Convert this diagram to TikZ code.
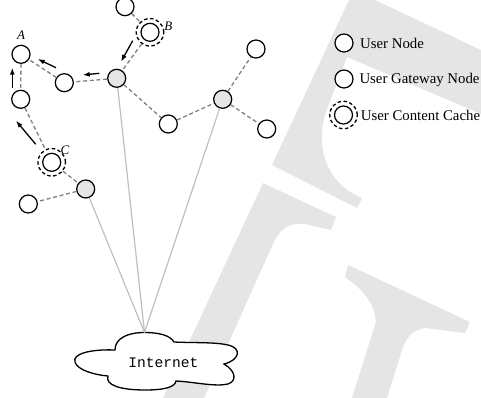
\documentclass[tikz,border=0pt]{standalone}
\usepackage{fontspec}
\setmainfont{Liberation Serif}
\setmonofont{Liberation Mono}
\usetikzlibrary{arrows.meta}
\definecolor{wm}{gray}{0.9}
\definecolor{gwfill}{gray}{0.9}
\definecolor{edgegray}{gray}{0.5}
\definecolor{linkgray}{gray}{0.75}
\begin{document}
\begin{tikzpicture}[x=1pt, y=-1pt,
  unode/.style={circle, draw, line width=1.25pt, fill=white, minimum size=18pt, inner sep=0pt},
  gwnode/.style={unode, fill=gwfill},
  ring/.style={circle, draw, dash pattern=on 3.5pt off 2.5pt, line width=1.3pt, minimum size=27.5pt, inner sep=0pt},
  link/.style={draw=edgegray, line width=1.3pt, dash pattern=on 4pt off 2.7pt},
  uplink/.style={draw=linkgray, line width=1.2pt},
  flow/.style={-{Latex[length=7pt,width=5pt]}, line width=1.3pt},
  lbl/.style={font=\fontsize{13}{13}\selectfont\itshape, inner sep=0pt},
  legtext/.style={font=\fontsize{14.8}{15}\selectfont, anchor=west, inner sep=0pt},
  cloudline/.style={draw, line width=1.3pt, fill=white}
]
\useasboundingbox (0,0) rectangle (481,398);
% watermark shapes
\fill[wm] (349,0) -- (375,0) -- (481,50) -- (481,114) -- (347,57) -- (326,112)
  .. controls (316,140) and (322,182) .. (362,198) -- (357,208) -- (272,165) -- cycle;
\fill[wm] (263,183) -- (336,217) -- (331,230) -- (305,224)
  .. controls (290,222) and (280,228) .. (272,246) -- (204,398) -- (163,398) -- cycle;
\fill[wm] (348,265) -- (470,322) -- (465,333) -- (425,328)
  .. controls (412,330) and (406,338) .. (402,350) -- (387,398) -- (352,398) -- (376,322)
  .. controls (374,300) and (360,288) .. (345,277) -- cycle;

% nodes
\node[unode] (ntop) at (125,6.7) {};
\node[unode] (B) at (150,32.3) {};
\node[ring] (Bring) at (B) {};
\node[unode] (A) at (21,54.3) {};
\node[unode] (n4) at (64.3,82.7) {};
\node[gwnode] (G1) at (116.7,78.3) {};
\node[unode] (na2) at (20.7,99.3) {};
\node[unode] (C) at (51.7,162.3) {};
\node[ring] (Cring) at (C) {};
\node[gwnode] (G3) at (85.7,189) {};
\node[unode] (nbl) at (28.3,204) {};
\node[unode] (nmid) at (168.3,124) {};
\node[gwnode] (G2) at (222.7,99.3) {};
\node[unode] (ntr) at (256,49) {};
\node[unode] (nr) at (266.7,129) {};

\node[lbl] (lA) at (21,35) {A};
\node[lbl] (lB) at (168.3,26) {B};
\node[lbl] (lC) at (65,150.5) {C};

% cloud
\coordinate (itop) at (144.5,332.5);
\path[cloudline] (115,350) .. controls (90,349) and (72,354) .. (75,362)
  .. controls (77,370) and (95,375) .. (108,376)
  .. controls (105,385) and (120,390) .. (145,390)
  .. controls (165,390) and (175,387) .. (176,381)
  .. controls (195,382) and (215,387) .. (228,384)
  .. controls (237,381) and (236,371) .. (224,364)
  .. controls (240,360) and (242,348) .. (228,345)
  .. controls (215,342) and (195,343) .. (174,342)
  .. controls (170,335) and (158,332.5) .. (144.5,332.5)
  .. controls (128,332.5) and (115,338) .. (115,350) -- cycle;
\node[font=\fontsize{14.6}{15}\selectfont\ttfamily, inner sep=0pt] (inet) at (163.3,362.3) {Internet};

% dashed links
\draw[link] (ntop) -- (Bring);
\draw[link] (Bring) -- (G1);
\draw[link] (G1) -- (n4);
\draw[link] (n4) -- (A);
\draw[link] (A) -- (na2);
\draw[link] (na2) -- (Cring);
\draw[link] (Cring) -- (G3);
\draw[link] (G3) -- (nbl);
\draw[link] (G1) -- (nmid);
\draw[link] (nmid) -- (G2);
\draw[link] (G2) -- (ntr);
\draw[link] (G2) -- (nr);

% uplinks
\draw[uplink] (G1) -- (itop);
\draw[uplink] (G2) -- (itop);
\draw[uplink] (G3) -- (itop);

% flow arrows
\coordinate (f1a) at (132.7,40.7); \coordinate (f1b) at (121,61.7);
\coordinate (f2a) at (99.3,73.3);  \coordinate (f2b) at (82.7,75);
\coordinate (f3a) at (56,67.7);    \coordinate (f3b) at (37.7,59);
\coordinate (f4a) at (12.3,87.7);  \coordinate (f4b) at (12.3,67.7);
\coordinate (f5a) at (35.7,144.3); \coordinate (f5b) at (16,120.7);
\draw[flow] (f1a) -- (f1b);
\draw[flow] (f2a) -- (f2b);
\draw[flow] (f3a) -- (f3b);
\draw[flow] (f4a) -- (f4b);
\draw[flow] (f5a) -- (f5b);

% legend
\node[unode] (L1) at (344,43) {};
\node[unode] (L2) at (344,79) {};
\node[unode] (L3) at (343.5,115) {};
\node[ring] (L3ring) at (L3) {};
\node[legtext] (T1) at (360,43) {User Node};
\node[legtext] (T2) at (359.3,79.5) {User Gateway Node};
\node[legtext] (T3) at (360.7,115.5) {User Content Cache};
\end{tikzpicture}
\end{document}
